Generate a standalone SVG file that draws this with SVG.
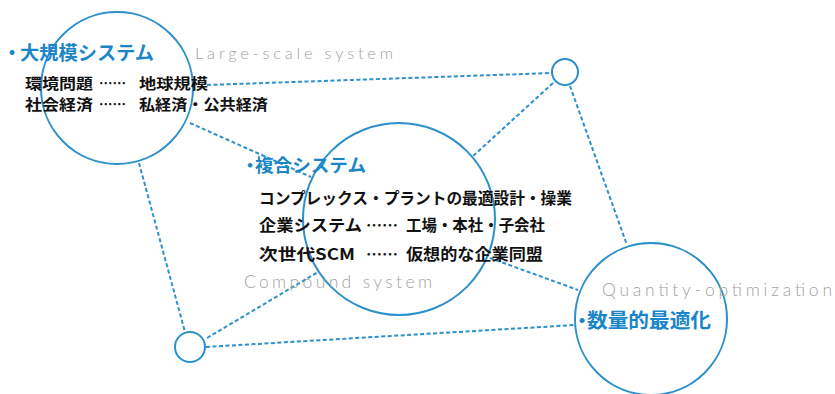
<svg xmlns="http://www.w3.org/2000/svg" width="835" height="394" viewBox="0 0 835 394">
<style>
.node{fill:none;stroke:#2b90cc;stroke-width:2}
.link{fill:none;stroke:#2b90cc;stroke-width:2;stroke-dasharray:4 2.5}
.ttl{font-family:"Noto Sans CJK JP","Noto Sans",sans-serif;font-weight:bold;fill:#1a86c8}
.body{font-family:"Noto Sans CJK JP","Noto Sans",sans-serif;font-weight:bold;fill:#111;font-size:16px}
.sm{font-size:14.5px}
.en{font-family:Lato,"Liberation Sans",sans-serif;font-weight:300;fill:#a2a2a2}
</style>
<rect width="835" height="394" fill="#fff"/>
<g id="connectors">
<line class="link" x1="207" y1="85" x2="552" y2="73"/>
<line class="link" x1="190" y1="123" x2="311" y2="177"/>
<line class="link" x1="553" y1="83" x2="472" y2="157"/>
<line class="link" x1="570" y1="86" x2="627" y2="245"/>
<line class="link" x1="139" y1="163" x2="185" y2="332"/>
<line class="link" x1="207" y1="338" x2="318" y2="272"/>
<line class="link" x1="206" y1="347" x2="575" y2="325"/>
<line class="link" x1="490" y1="258" x2="578" y2="290"/>
</g>
<g id="node-large">
<circle class="node" cx="117" cy="88" r="76"/>
<text class="ttl" x="2.5" y="60" font-size="19"><tspan letter-spacing="-1.5">・</tspan><tspan textLength="134" lengthAdjust="spacingAndGlyphs">大規模システム</tspan></text>
<text class="en" x="195" y="59" font-size="16.5" textLength="198" lengthAdjust="spacing">Large-scale system</text>
<text class="body sm" x="25" y="88.5" textLength="68" lengthAdjust="spacingAndGlyphs">環境問題</text>
<text class="body sm" x="99" y="88.5" textLength="27" lengthAdjust="spacingAndGlyphs">……</text>
<text class="body sm" x="139" y="88.5" textLength="69" lengthAdjust="spacingAndGlyphs">地球規模</text>
<text class="body sm" x="25" y="110" textLength="68" lengthAdjust="spacingAndGlyphs">社会経済</text>
<text class="body sm" x="99" y="110" textLength="27" lengthAdjust="spacingAndGlyphs">……</text>
<text class="body sm" x="139" y="110" textLength="129" lengthAdjust="spacingAndGlyphs">私経済・公共経済</text>
</g>
<g id="node-compound">
<circle class="node" cx="399" cy="219" r="96"/>
<text class="ttl" x="241" y="172" font-size="18"><tspan letter-spacing="-4">・</tspan><tspan textLength="111" lengthAdjust="spacingAndGlyphs">複合システム</tspan></text>
<text class="body" x="259" y="204" textLength="313" lengthAdjust="spacingAndGlyphs">コンプレックス・プラントの最適設計・操業</text>
<text class="body" x="259" y="231" textLength="103" lengthAdjust="spacingAndGlyphs">企業システム</text>
<text class="body" x="366" y="231" textLength="32" lengthAdjust="spacingAndGlyphs">……</text>
<text class="body" x="406" y="231" textLength="139" lengthAdjust="spacingAndGlyphs">工場・本社・子会社</text>
<text class="body" x="259" y="260" textLength="96" lengthAdjust="spacingAndGlyphs">次世代SCM</text>
<text class="body" x="366" y="260" textLength="32" lengthAdjust="spacingAndGlyphs">……</text>
<text class="body" x="406" y="260" textLength="137" lengthAdjust="spacingAndGlyphs">仮想的な企業同盟</text>
<text class="en" x="244" y="288" font-size="17.5" textLength="188" lengthAdjust="spacing">Compound system</text>
</g>
<g id="node-quantity">
<circle class="node" cx="651" cy="319" r="76"/>
<text class="en" x="602" y="296" font-size="17.5" textLength="230" lengthAdjust="spacing">Quantity-optimization</text>
<text class="ttl" x="572" y="328" font-size="20"><tspan letter-spacing="-5">・</tspan><tspan textLength="124" lengthAdjust="spacingAndGlyphs">数量的最適化</tspan></text>
</g>
<g id="node-small-top">
<circle class="node" cx="565" cy="72" r="13"/>
</g>
<g id="node-small-bottom">
<circle class="node" cx="190" cy="347" r="15"/>
</g>
</svg>
